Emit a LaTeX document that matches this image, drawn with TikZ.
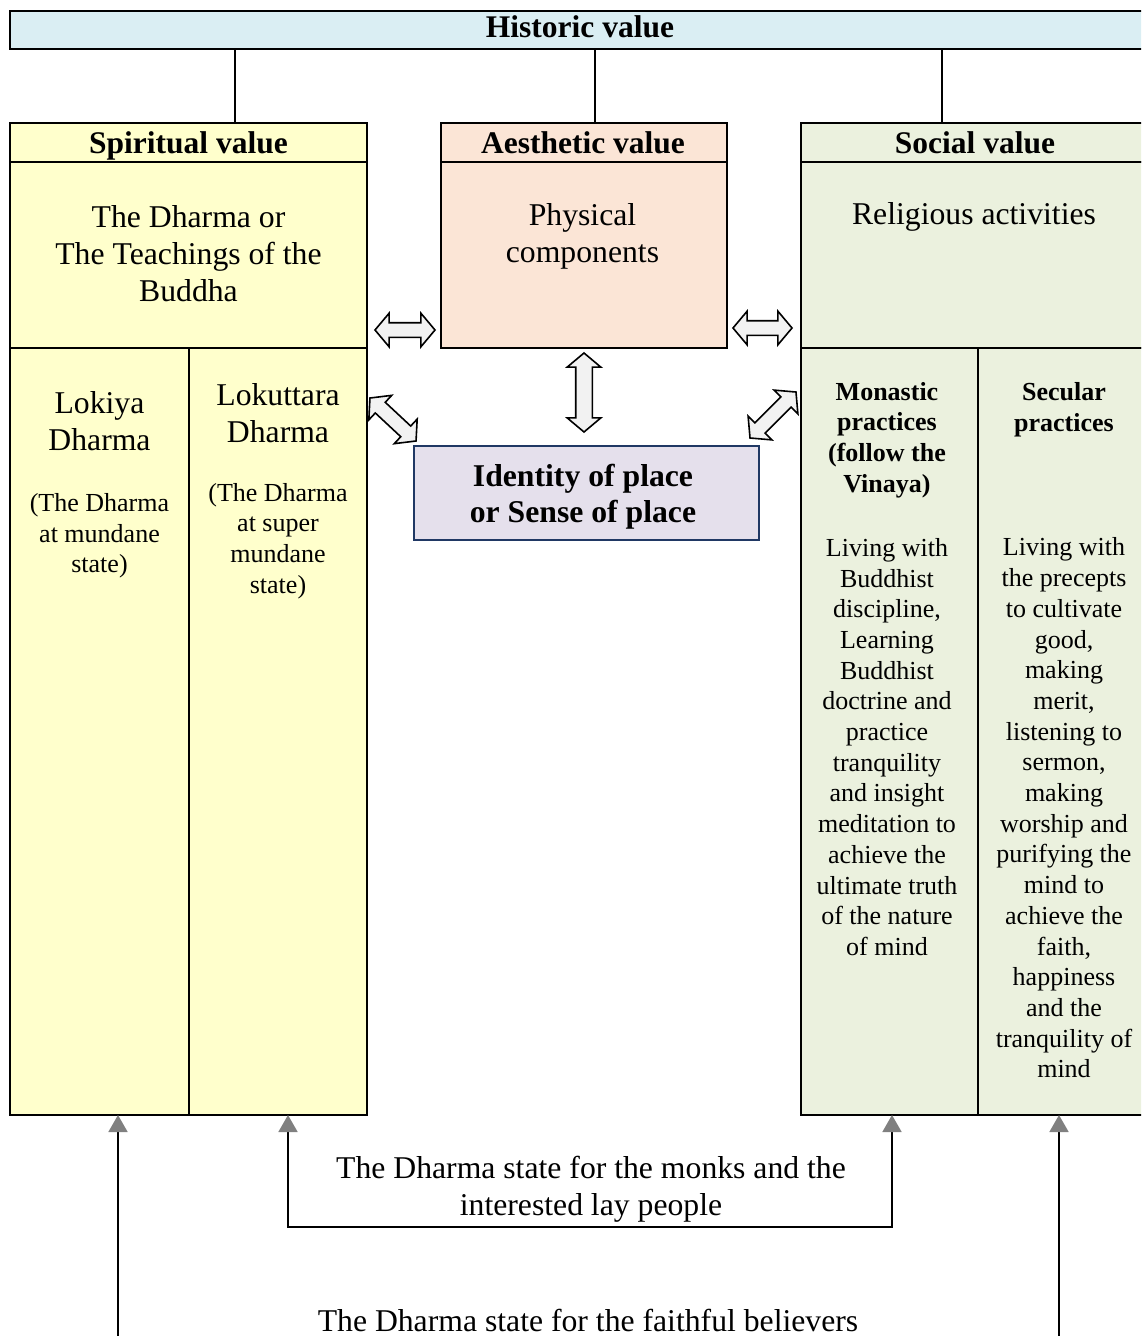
\documentclass[tikz,border=0pt]{standalone}
\usepackage{fontspec}
\setmainfont{Liberation Serif}
\usetikzlibrary{shapes.arrows,arrows.meta}
\definecolor{histblue}{HTML}{DAEEF3}
\definecolor{spiryellow}{HTML}{FFFFCC}
\definecolor{aesthpeach}{HTML}{FBE5D6}
\definecolor{socgreen}{HTML}{EBF1DE}
\definecolor{idlav}{HTML}{E5E0EC}
\definecolor{idnavy}{HTML}{203864}
\definecolor{arrowfill}{HTML}{F2F2F2}
\definecolor{headgrey}{HTML}{808080}
\begin{document}
\begin{tikzpicture}[x=1pt,y=-1pt,
  cell/.style={draw=black,line width=1.8pt,inner sep=0pt,outer sep=0pt,anchor=north west},
  hdrtxt/.style={font=\fontsize{31.5}{36}\selectfont\bfseries,inner sep=0pt,anchor=base},
  bigtxt/.style={font=\fontsize{31.7}{37}\selectfont,align=center,inner sep=0pt},
  smalltxt/.style={font=\fontsize{26}{30.7}\selectfont,align=center,inner sep=0pt},
  smallbold/.style={font=\fontsize{26}{30.7}\selectfont\bfseries,align=center,inner sep=0pt},
  dblarrow/.style={double arrow,draw=black,line width=1.6pt,fill=arrowfill,
    inner xsep=0pt,inner ysep=6.5pt,double arrow head extend=9.5pt,
    double arrow head indent=0pt,double arrow tip angle=100},
  upar/.style={line width=1.8pt,-{Triangle[length=17pt,width=19pt,color=headgrey]}},
  bothar/.style={line width=1.8pt,{Triangle[length=17pt,width=19pt,color=headgrey]}-{Triangle[length=17pt,width=19pt,color=headgrey]}},
  conn/.style={line width=1.8pt}]
\useasboundingbox (0,0) rectangle (1141,1336);
\clip (0,0) rectangle (1141,1336);

% top bar
\node[cell,fill=histblue,minimum width=1140,minimum height=38] (hist) at (10,11) {};
\node[hdrtxt] (thist) at (580,37) {Historic value};

% spiritual column
\node[cell,fill=spiryellow,minimum width=357,minimum height=39] (sph) at (10,123) {};
\node[hdrtxt] (tsph) at (188.5,153) {Spiritual value};
\node[cell,fill=spiryellow,minimum width=357,minimum height=186] (spb) at (10,162) {};
\node[cell,fill=spiryellow,minimum width=179,minimum height=767] (lok) at (10,348) {};
\node[cell,fill=spiryellow,minimum width=178,minimum height=767] (lku) at (189,348) {};

% aesthetic column
\node[cell,fill=aesthpeach,minimum width=286,minimum height=39] (aeh) at (441,123) {};
\node[hdrtxt] (taeh) at (583,153) {Aesthetic value};
\node[cell,fill=aesthpeach,minimum width=286,minimum height=186] (aeb) at (441,162) {};

% social column
\node[cell,fill=socgreen,minimum width=349,minimum height=39] (soh) at (801,123) {};
\node[hdrtxt] (tsoh) at (975,153) {Social value};
\node[cell,fill=socgreen,minimum width=349,minimum height=186] (sob) at (801,162) {};
\node[cell,fill=socgreen,minimum width=177,minimum height=767] (mon) at (801,348) {};
\node[cell,fill=socgreen,minimum width=172,minimum height=767] (sec) at (978,348) {};

% identity
\node[cell,draw=idnavy,line width=2.2pt,fill=idlav,minimum width=345,minimum height=94] (idn) at (414,446) {};
\node[font=\fontsize{31.7}{36}\selectfont\bfseries,align=center,inner sep=0pt] (tidn) at (583,497)
  {Identity of place\\or Sense of place};

% connectors from top bar
\coordinate (x1) at (235,0);
\coordinate (x2) at (595,0);
\coordinate (x3) at (942,0);
\draw[conn] (x1 |- hist.south) -- (x1 |- sph.north);
\draw[conn] (x2 |- hist.south) -- (x2 |- aeh.north);
\draw[conn] (x3 |- hist.south) -- (x3 |- soh.north);

% texts
\node[bigtxt] (tspb) at (188.5,254) {The Dharma or\\The Teachings of the\\Buddha};
\node[bigtxt] (taeb) at (582.5,236) {Physical\\components};
\node[bigtxt] (tsob) at (974,217) {Religious activities};
\node[bigtxt] (tlok1) at (99.5,421) {Lokiya\\Dharma};
\node[smalltxt] (tlok2) at (99.5,536) {(The Dharma\\at mundane\\state)};
\node[bigtxt] (tlku1) at (278,413) {Lokuttara\\Dharma};
\node[smalltxt] (tlku2) at (278,541) {(The Dharma\\at super\\mundane\\state)};
\node[smallbold] (tmon1) at (887,440) {Monastic\\practices\\(follow the\\Vinaya)};
\node[smalltxt] (tmon2) at (887,747) {Living with\\Buddhist\\discipline,\\Learning\\Buddhist\\doctrine and\\practice\\tranquility\\and insight\\meditation to\\achieve the\\ultimate truth\\of the nature\\of mind};
\node[smallbold] (tsec1) at (1064,410) {Secular\\practices};
\node[smalltxt] (tsec2) at (1064,808) {Living with\\the precepts\\to cultivate\\good,\\making\\merit,\\listening to\\sermon,\\making\\worship and\\purifying the\\mind to\\achieve the\\faith,\\happiness\\and the\\tranquility of\\mind};

% block double arrows
\node[dblarrow,minimum height=60] (da1) at (405,330) {};
\node[dblarrow,minimum height=59] (da2) at (762.5,328) {};
\node[dblarrow,minimum height=79,rotate=90,inner ysep=7.5pt,double arrow head extend=8.5pt] (da3) at (584,392.5) {};
\node[dblarrow,minimum height=63,rotate=-43] (da4) at (393,419.5) {};
\node[dblarrow,minimum height=65,rotate=45] (da5) at (773,415) {};

% bottom arrows
\coordinate (b1) at (118,1336);
\coordinate (b4) at (1059,1336);
\coordinate (c2) at (288,0);
\coordinate (c3) at (892,0);
\coordinate (rowy) at (0,1227);
\draw[upar] (b1) -- (b1 |- lok.south);
\draw[upar] (b4) -- (b4 |- sec.south);
\draw[bothar] (c2 |- lku.south) -- (c2 |- rowy) -- (c3 |- rowy) -- (c3 |- mon.south);

\node[bigtxt] (tmonks) at (591,1189) {The Dharma state for the monks and the\\interested lay people};
\node[bigtxt] (tfaith) at (588,1320) {The Dharma state for the faithful believers};
\end{tikzpicture}
\end{document}
